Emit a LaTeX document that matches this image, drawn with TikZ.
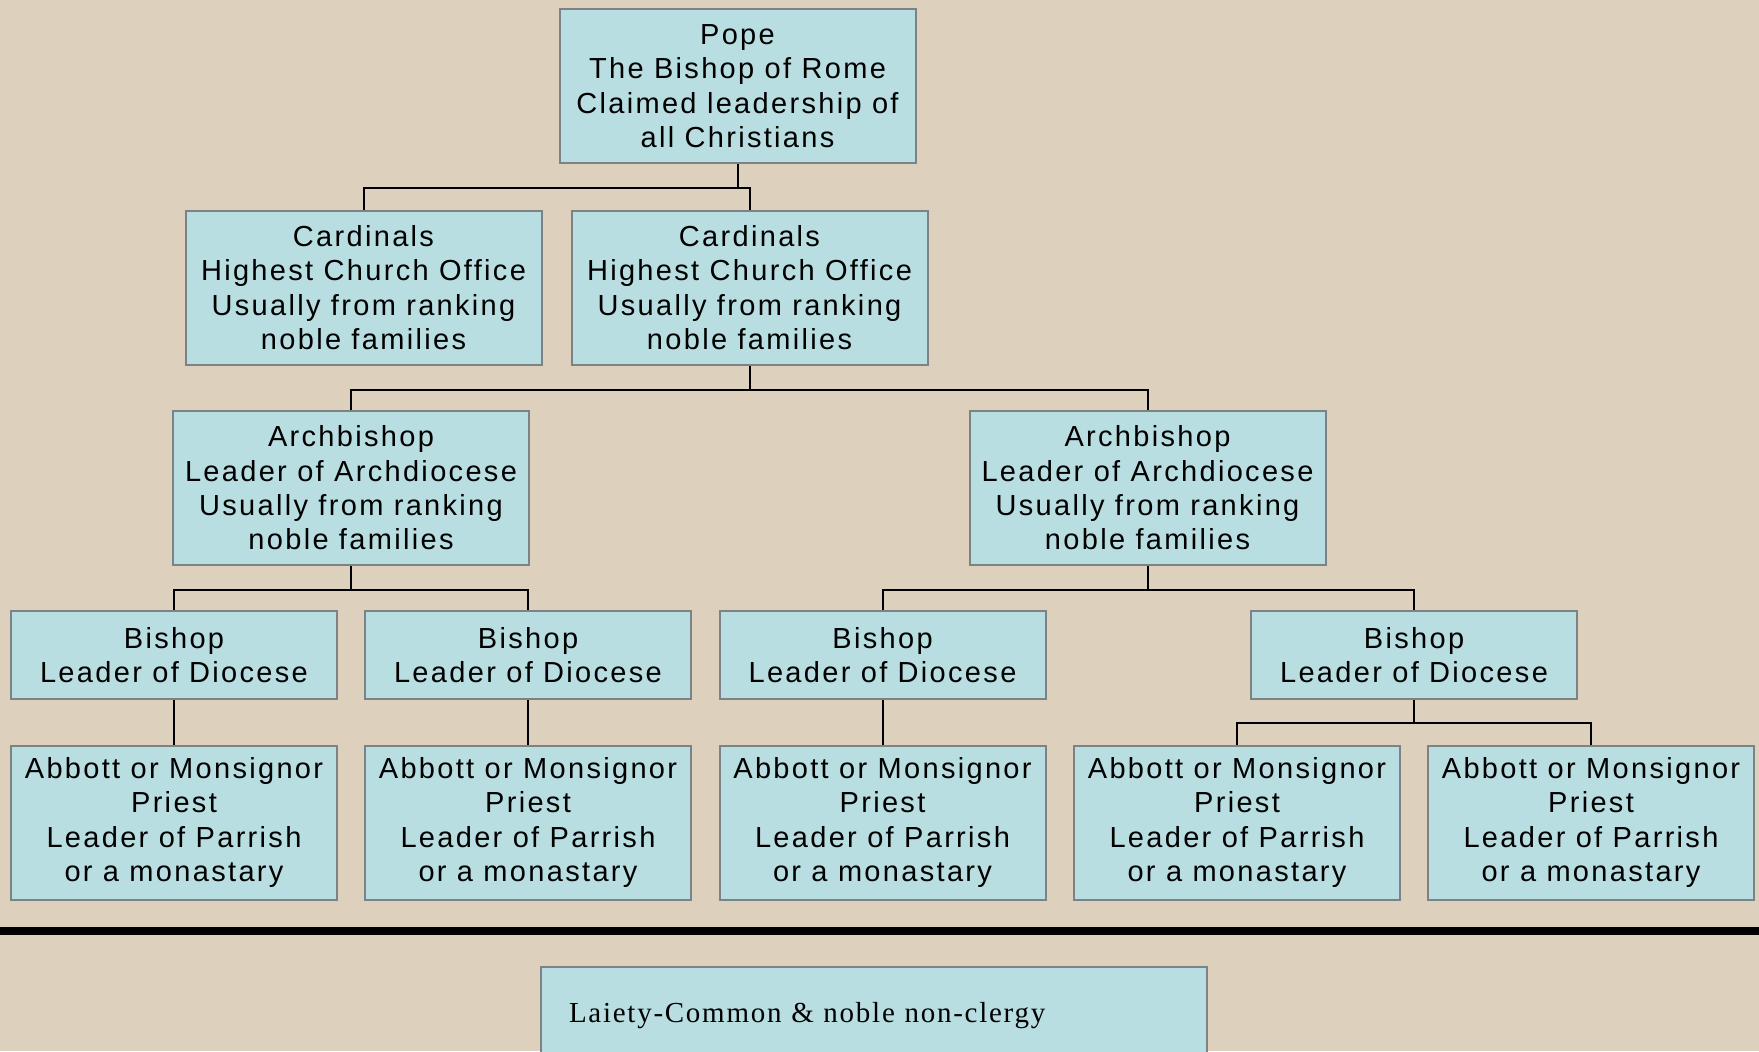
\documentclass[tikz,border=0pt]{standalone}
\usepackage{fontspec}
\setmainfont{Liberation Sans}[LetterSpace=8]
\newfontfamily\laityfont{Liberation Serif}[LetterSpace=6]
\definecolor{canvas}{RGB}{221,209,189}
\definecolor{boxfill}{RGB}{184,222,226}
\definecolor{boxline}{RGB}{125,130,134}
\begin{document}
\begin{tikzpicture}[x=0.5pt,y=-0.5pt,
  office/.style={draw=boxline,line width=1pt,fill=boxfill,inner sep=0pt,align=center,
    font=\fontsize{14.5}{17.2}\selectfont,minimum width=178pt},
  tall/.style={office,minimum height=77pt},
  short/.style={office,minimum height=44pt,minimum width=163pt},
  link/.style={line width=1pt}]
\useasboundingbox[fill=canvas](0,0) rectangle (1759,1051);
\node[tall] (pope) at (737.5,86){Pope\\The Bishop of Rome\\Claimed leadership of\\all Christians};
\node[tall] (card1) at (363.5,287.5){Cardinals\\Highest Church Office\\Usually from ranking\\noble families};
\node[tall] (card2) at (749.5,287.5){Cardinals\\Highest Church Office\\Usually from ranking\\noble families};
\node[tall] (arch1) at (351,488){Archbishop\\Leader of Archdiocese\\Usually from ranking\\noble families};
\node[tall] (arch2) at (1147.5,488){Archbishop\\Leader of Archdiocese\\Usually from ranking\\noble families};
\node[short] (bish1) at (174,655){Bishop\\Leader of Diocese};
\node[short] (bish2) at (528,655){Bishop\\Leader of Diocese};
\node[short] (bish3) at (882.5,655){Bishop\\Leader of Diocese};
\node[short] (bish4) at (1414,655){Bishop\\Leader of Diocese};
\node[tall,minimum width=163pt] (abb1) at (174,822.5){Abbott or Monsignor\\Priest\\Leader of Parrish\\or a monastary};
\node[tall,minimum width=163pt] (abb2) at (528,822.5){Abbott or Monsignor\\Priest\\Leader of Parrish\\or a monastary};
\node[tall,minimum width=163pt] (abb3) at (882.5,822.5){Abbott or Monsignor\\Priest\\Leader of Parrish\\or a monastary};
\node[tall,minimum width=163pt] (abb4) at (1237,822.5){Abbott or Monsignor\\Priest\\Leader of Parrish\\or a monastary};
\node[tall,minimum width=163pt] (abb5) at (1591,822.5){Abbott or Monsignor\\Priest\\Leader of Parrish\\or a monastary};
\draw[link](pope.south)--++(0,24) coordinate (bus1);
\draw[link](card1.north)|-(bus1)-|(card2.north);
\draw[link](card2.south)--++(0,24) coordinate (bus2);
\draw[link](arch1.north)|-(bus2)-|(arch2.north);
\draw[link](arch1.south)--++(0,24) coordinate (bus3);
\draw[link](bish1.north)|-(bus3)-|(bish2.north);
\draw[link](arch2.south)--++(0,24) coordinate (bus4);
\draw[link](bish3.north)|-(bus4)-|(bish4.north);
\draw[link](bish1)--(abb1);
\draw[link](bish2)--(abb2);
\draw[link](bish3)--(abb3);
\draw[link](bish4.south)--++(0,23) coordinate (bus5);
\draw[link](abb4.north)|-(bus5)-|(abb5.north);
\coordinate (divl) at (0,931);
\coordinate (divr) at (1759,931);
\draw[line width=4pt](divl)--(divr);
\node[office,minimum width=333pt,minimum height=49pt,text width=305pt,inner xsep=14pt,align=left,
  font=\laityfont\fontsize{14.5}{17}\selectfont] (laity) at (874,1016){Laiety-Common \& noble non-clergy};
\end{tikzpicture}
\end{document}
